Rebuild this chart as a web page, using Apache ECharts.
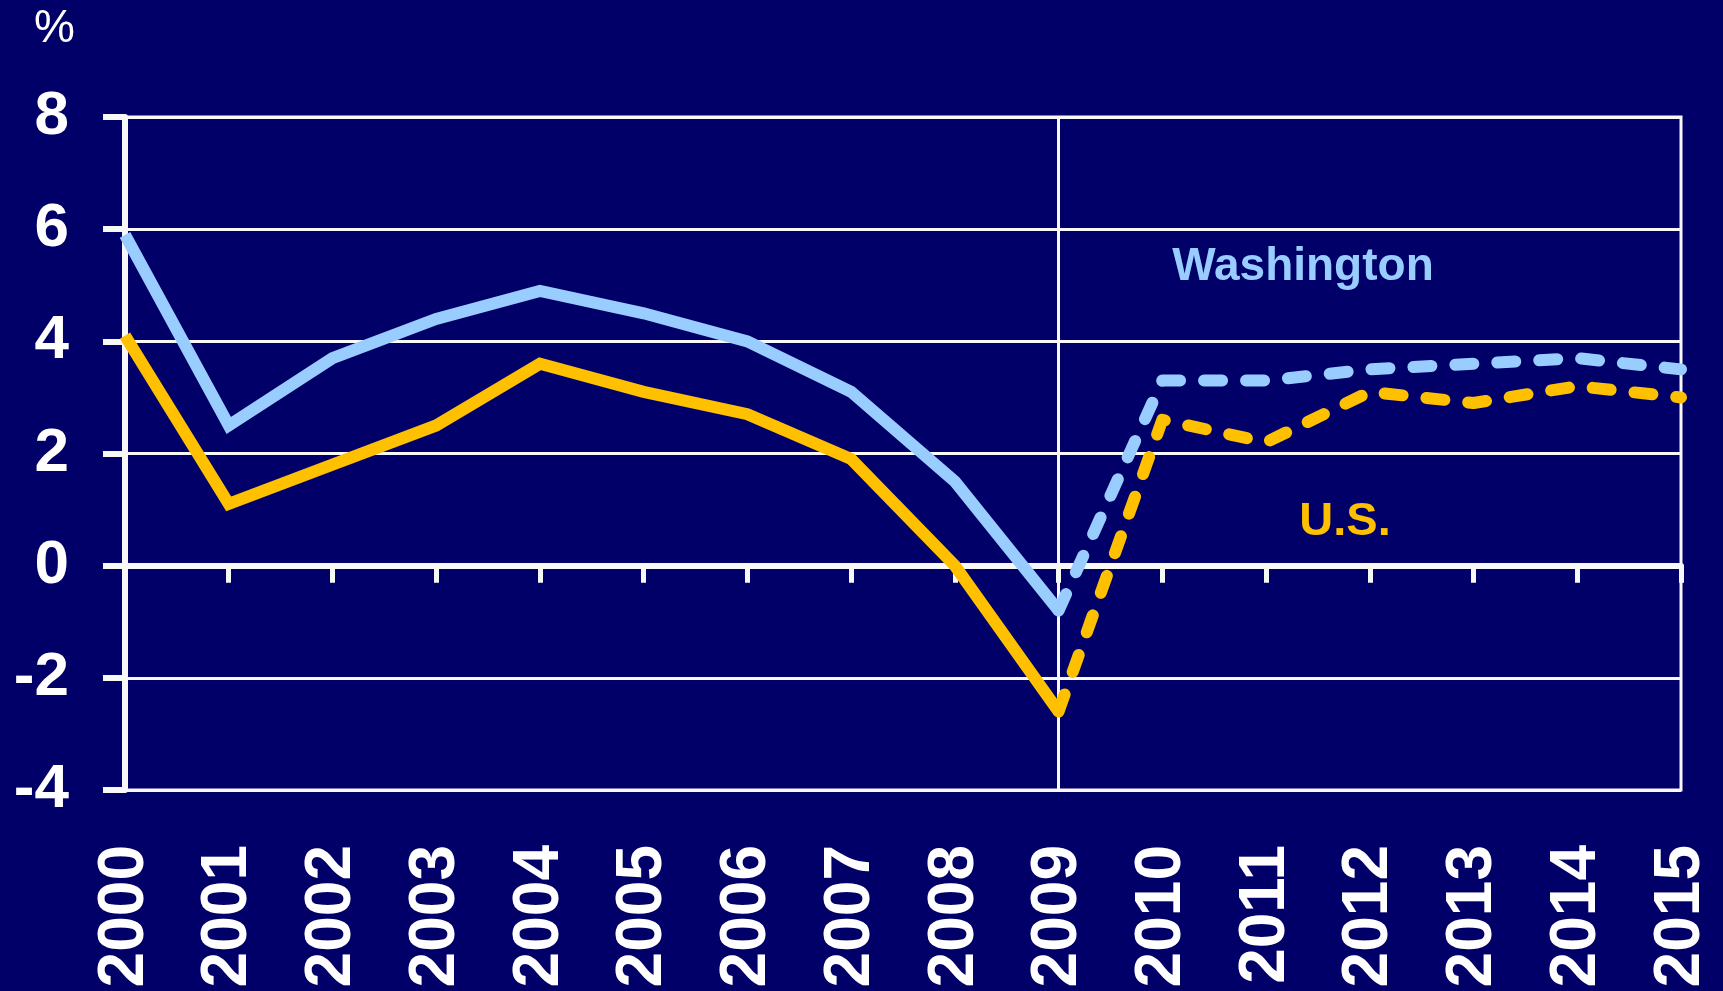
<!DOCTYPE html>
<html>
<head>
<meta charset="utf-8">
<title>Employment growth: Washington vs U.S.</title>
<script src="https://cdn.jsdelivr.net/npm/echarts@6/dist/echarts.min.js"></script>
<style>
  html, body { margin: 0; padding: 0; background: #000068; }
  #chart { width: 1723px; height: 991px; }
</style>
</head>
<body>
<div id="chart"></div>
<script>
// Years on the horizontal axis
const years = ['2000','2001','2002','2003','2004','2005','2006','2007',
               '2008','2009','2010','2011','2012','2013','2014','2015'];

// Annual growth, % (actuals through 2009, forecast from 2009 on)
const washington = [5.9, 2.5, 3.7, 4.4, 4.9, 4.5, 4.0, 3.1, 1.5, -0.8,
                    3.3, 3.3, 3.5, 3.6, 3.7, 3.5];
const us         = [4.1, 1.1, 1.8, 2.5, 3.6, 3.1, 2.7, 1.9, 0.0, -2.6,
                    2.6, 2.2, 3.1, 2.9, 3.2, 3.0];

// Index of the last actual year; forecast segments start here
const splitIndex = 9;

// Value-axis ticks
const yMin = -4, yMax = 8, yStep = 2;

const BLUE = '#99CCFF';
const GOLD = '#FFC000';
const WHITE = '#F8F8F8';

function actualPart(arr) {
  return arr.map((v, i) => (i <= splitIndex ? v : '-'));
}
function forecastPart(arr) {
  return arr.map((v, i) => (i >= splitIndex ? v : '-'));
}

const chart = echarts.init(document.getElementById('chart'), null, { renderer: 'canvas' });

const solidStyle = (c) => ({ color: c, width: 12, type: 'solid', cap: 'butt', join: 'miter' });
const dashStyle  = (c) => ({ color: c, width: 12, type: [18, 24], cap: 'round', join: 'round' });

chart.setOption({
  backgroundColor: '#000068',
  animation: false,
  grid: {
    left: 125, right: 42, top: 117, bottom: 201,
    show: true, borderColor: WHITE, borderWidth: 3,
    backgroundColor: 'transparent'
  },
  xAxis: [
    {
      // label axis along the bottom of the plot
      type: 'category',
      data: years,
      boundaryGap: false,
      position: 'bottom',
      axisLine: { show: false, onZero: false },
      axisTick: { show: false },
      axisLabel: {
        interval: 0,
        rotate: 90,
        margin: 55,
        color: '#FFFFFF',
        fontFamily: 'Liberation Sans, Arial, sans-serif',
        fontWeight: 'bold',
        fontSize: 64
      },
      splitLine: {
        show: true,
        interval: (i) => i === splitIndex,
        lineStyle: { color: WHITE, width: 3 }
      }
    },
    {
      // zero line with year ticks
      type: 'category',
      data: years,
      boundaryGap: false,
      position: 'bottom',
      axisLine: { show: true, onZero: true, lineStyle: { color: WHITE, width: 6 } },
      axisTick: { show: true, interval: 0, length: 17, lineStyle: { color: WHITE, width: 5 } },
      axisLabel: { show: false },
      splitLine: { show: false }
    }
  ],
  yAxis: {
    type: 'value',
    min: yMin, max: yMax, interval: yStep,
    axisLine: { show: true, lineStyle: { color: WHITE, width: 6 } },
    axisTick: { show: true, length: 22, lineStyle: { color: WHITE, width: 6 } },
    axisLabel: {
      margin: 56,
      color: '#FFFFFF',
      fontFamily: 'Liberation Sans, Arial, sans-serif',
      fontWeight: 'bold',
      fontSize: 62
    },
    splitLine: { show: true, lineStyle: { color: WHITE, width: 3 } }
  },
  series: [
    {
      name: 'Washington', type: 'line', xAxisIndex: 0,
      data: actualPart(washington), showSymbol: false, symbol: 'none',
      lineStyle: solidStyle(BLUE), z: 3
    },
    {
      name: 'U.S.', type: 'line', xAxisIndex: 0,
      data: actualPart(us), showSymbol: false, symbol: 'none',
      lineStyle: solidStyle(GOLD), z: 4
    },
    {
      name: 'Washington forecast', type: 'line', xAxisIndex: 0,
      data: forecastPart(washington), showSymbol: false, symbol: 'none',
      lineStyle: dashStyle(BLUE), z: 3
    },
    {
      name: 'U.S. forecast', type: 'line', xAxisIndex: 0,
      data: forecastPart(us), showSymbol: false, symbol: 'none',
      lineStyle: dashStyle(GOLD), z: 4
    }
  ],
  graphic: [
    {
      type: 'text', left: 34, top: 6,
      style: {
        text: '%', fill: '#FFFFFF',
        font: 'normal 46px "Liberation Sans", Arial, sans-serif'
      }
    },
    {
      type: 'text', x: 1303, y: 267,
      style: {
        text: 'Washington', fill: BLUE, align: 'center', verticalAlign: 'middle',
        font: 'bold 46px "Liberation Sans", Arial, sans-serif'
      }
    },
    {
      type: 'text', x: 1345, y: 522,
      style: {
        text: 'U.S.', fill: GOLD, align: 'center', verticalAlign: 'middle',
        font: 'bold 47px "Liberation Sans", Arial, sans-serif'
      }
    }
  ]
});
</script>
</body>
</html>
